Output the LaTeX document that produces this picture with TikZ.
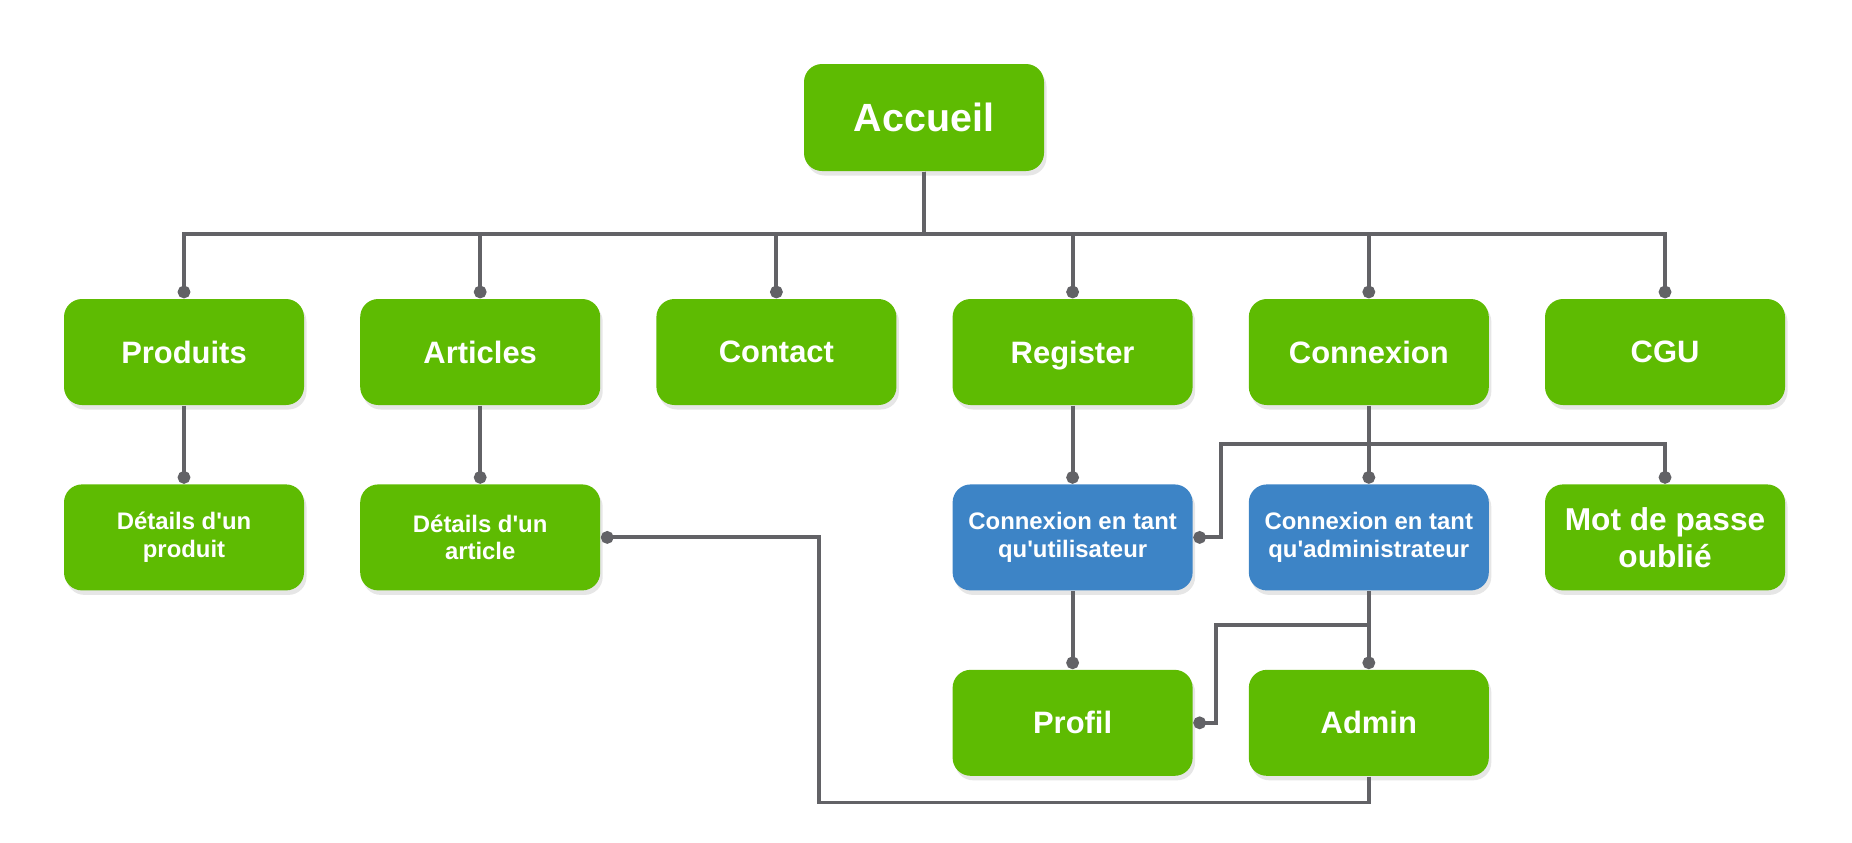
\documentclass[tikz,border=0pt]{standalone}
\usepackage{fontspec}
\setmainfont{Liberation Sans}
\usetikzlibrary{arrows.meta,calc,positioning,shadows}
\definecolor{sitegreen}{RGB}{94,187,2}
\definecolor{siteblue}{RGB}{61,132,198}
\definecolor{sitegrey}{RGB}{98,98,102}
\newcommand{\aps}{\textquotesingle}

\begin{document}
\begin{tikzpicture}[node distance=7.8mm and 5.48mm,
      page/.style={rounded corners=1.8mm,minimum width=2.4cm,minimum height=1.06cm,
        text=white,align=center,fill=sitegreen,font=\bfseries\fontsize{8.8}{10.2}\selectfont,
        drop shadow={opacity=.2,shadow xshift=.25mm,shadow yshift=-.45mm}},
      sub/.style={page,font=\bfseries\fontsize{6.8}{7.9}\selectfont},
      login/.style={sub,fill=siteblue},
      link/.style={draw=sitegrey,line width=1.1pt,-{Circle[length=3.6pt]}},
      wire/.style={draw=sitegrey,line width=1.1pt}]
      \useasboundingbox (0,0) rectangle (18.52,-8.42);
      % home and first level
      \node[page,minimum height=1.07cm,font=\bfseries\fontsize{11.2}{13}\selectfont] (acc) at (9.24,-1.175) {Accueil};
      \node[page] (prod) at (1.84,-3.52) {Produits};
      \node[page,right=of prod] (art) {Articles};
      \node[page,right=of art] (cont) {Contact};
      \node[page,right=of cont,text depth=0pt] (reg) {Register};
      \node[page,right=of reg] (conn) {Connexion};
      \node[page,right=of conn] (cgu) {CGU};
      % second level
      \node[sub,below=of prod] (dprod) {Détails d\aps un\\produit};
      \node[sub,below=of art] (dart) {Détails d\aps un\\article};
      \node[login,below=of reg] (cuser) {Connexion en tant\\qu\aps utilisateur};
      \node[login,below=of conn] (cadm) {Connexion en tant\\qu\aps administrateur};
      \node[page,below=of cgu,font=\bfseries\fontsize{9}{10.4}\selectfont] (mdp) {Mot de passe\\oublié};
      % third level
      \node[page,below=of cuser] (prof) {Profil};
      \node[page,below=of cadm] (adm) {Admin};
      % links
      \coordinate (bus) at (0,-2.34);
      \foreach \n in {prod,art,cont,reg,conn,cgu}
        \draw[link] (acc.south) -- (acc.south |- bus) -| (\n.north);
      \draw[link] (prod) -- (dprod);
      \draw[link] (art) -- (dart);
      \draw[link] (reg) -- (cuser);
      \draw[link] (conn) -- (cadm);
      \coordinate (cbus) at ($(conn.south)+(0,-.38)$);
      \draw[link] (cbus) -| ([xshift=2.8mm]cuser.east) -- (cuser.east);
      \draw[link] (cbus) -| (mdp.north);
      \draw[link] (cuser) -- (prof);
      \draw[link] (cadm) -- (adm);
      \coordinate (abus) at ($(cadm.south)+(0,-.34)$);
      \draw[link] (abus) -| ([xshift=2.3mm]prof.east) -- (prof.east);
      \coordinate (low) at ($(adm.south)+(0,-.26)$);
      \draw[link] (adm.south) -- (low) -| ([xshift=21.8mm]dart.east) -- (dart.east);
    \end{tikzpicture}
\end{document}
